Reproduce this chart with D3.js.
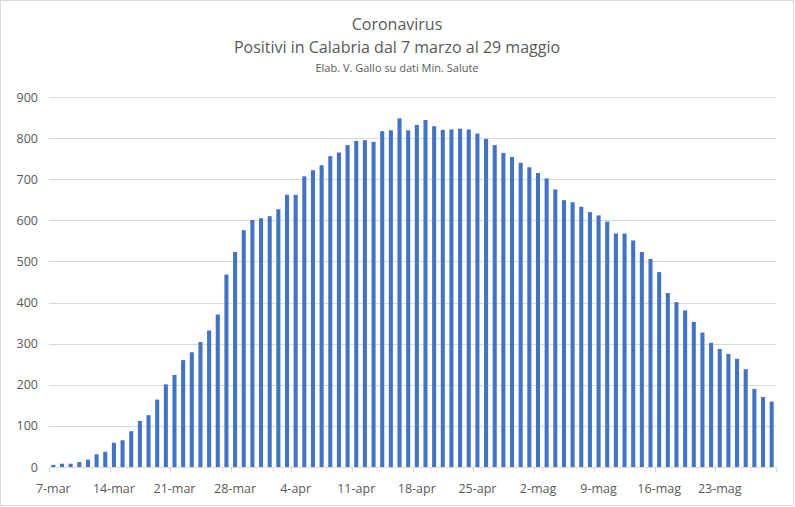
<!DOCTYPE html>
<html>
<head>
<meta charset="utf-8">
<script src="https://cdn.jsdelivr.net/npm/d3@7"></script>
<style>
  html, body { margin: 0; padding: 0; background: #fff; }
  svg { display: block; font-family: "Open Sans", "Liberation Sans", sans-serif; }
</style>
</head>
<body>
<svg id="chart" width="795" height="507"></svg>
<script>
// ---- Data ----
const startDate = "2020-03-07";
const values = [
  5, 8, 8, 12, 18, 31, 37, 59, 65, 87,
  112, 126, 164, 201, 224, 260, 279, 304, 332, 371,
  468, 523, 576, 601, 605, 610, 627, 662, 662, 707,
  722, 734, 756, 765, 783, 793, 795, 791, 817, 819,
  848, 819, 832, 844, 829, 820, 821, 823, 821, 811,
  798, 783, 764, 754, 740, 729, 715, 702, 675, 649,
  644, 633, 620, 612, 597, 568, 568, 551, 523, 506,
  474, 423, 401, 381, 353, 327, 302, 287, 275, 263,
  238, 190, 170, 159
];
const monthNames = ["gen","feb","mar","apr","mag","giu"];
const yTicks = [0, 100, 200, 300, 400, 500, 600, 700, 800, 900];
const titleLines = ["Coronavirus", "Positivi in Calabria dal 7 marzo al 29 maggio"];
const subtitle = "Elab. V. Gallo su dati Min. Salute";

const parse = d3.timeParse("%Y-%m-%d");
const d0 = parse(startDate);
const dates = values.map((v, i) => d3.timeDay.offset(d0, i));
const labelOf = d => d.getDate() + "-" + monthNames[d.getMonth()];
const data = values.map((v, i) => ({ date: dates[i], key: i, value: v }));

// ---- Layout ----
const svg = d3.select("#chart");
const W = 795, H = 507;
const plot = { left: 49, right: 776, top: 97, bottom: 467 };
const textColor = "#595959";
const gridColor = "#d9d9d9";

// border
svg.append("rect").attr("x", 0.5).attr("y", 0.5).attr("width", W - 2).attr("height", H - 2)
  .attr("fill", "#fff").attr("stroke", "#d9d9d9");

const x = d3.scaleBand().domain(data.map(d => d.key)).range([plot.left, plot.right]).paddingInner(0.53).paddingOuter(0.265);
const y = d3.scaleLinear().domain([0, 900]).range([plot.bottom, plot.top]);

// gridlines
svg.append("g").selectAll("line").data(yTicks.filter(t => t > 0)).join("line")
  .attr("x1", plot.left).attr("x2", plot.right)
  .attr("y1", d => Math.round(y(d)) + 0.5).attr("y2", d => Math.round(y(d)) + 0.5)
  .attr("stroke", gridColor).attr("stroke-width", 1);

// y axis labels
const yAxis = d3.axisLeft(y).tickValues(yTicks).tickSize(0).tickPadding(0);
const gy = svg.append("g").attr("transform", `translate(${plot.left - 11},0)`).call(yAxis);
gy.select(".domain").remove();
gy.selectAll("text").attr("fill", textColor).style("font-size", "12.5px")
  .style("font-family", "'Open Sans', sans-serif");

// bars
svg.append("g").selectAll("rect").data(data).join("rect")
  .attr("x", d => x(d.key))
  .attr("width", x.bandwidth())
  .attr("y", d => y(d.value))
  .attr("height", d => y(0) - y(d.value))
  .attr("fill", "#4472c4");

// x axis line
const step = x.step();
const axisG = svg.append("g");
axisG.append("line").attr("x1", plot.left).attr("x2", plot.right)
  .attr("y1", plot.bottom + 0.5).attr("y2", plot.bottom + 0.5)
  .attr("stroke", gridColor);
// tick marks every 7 days at category left edges, plus end
const tickIdx = d3.range(0, values.length + 1, 7).concat([values.length]);
axisG.selectAll("line.tick").data(tickIdx).join("line").attr("class", "tick")
  .attr("x1", i => Math.round(plot.left + i * step) + 0.5)
  .attr("x2", i => Math.round(plot.left + i * step) + 0.5)
  .attr("y1", plot.bottom).attr("y2", plot.bottom + 5)
  .attr("stroke", gridColor);
// labels
const labelIdx = d3.range(0, values.length, 7);
axisG.selectAll("text").data(labelIdx).join("text")
  .attr("x", i => x(i) + x.bandwidth() / 2)
  .attr("y", 493)
  .attr("text-anchor", "middle")
  .attr("fill", textColor)
  .style("font-size", "12.5px")
  .text(i => labelOf(dates[i]));

// titles
svg.append("text").attr("x", 397).attr("y", 30).attr("text-anchor", "middle")
  .attr("fill", textColor).style("font-size", "16px").text(titleLines[0]);
svg.append("text").attr("x", 397).attr("y", 53).attr("text-anchor", "middle")
  .attr("fill", textColor).style("font-size", "16px").text(titleLines[1]);
svg.append("text").attr("x", 397).attr("y", 72).attr("text-anchor", "middle")
  .attr("fill", textColor).style("font-size", "11px").text(subtitle);
</script>
</body>
</html>
